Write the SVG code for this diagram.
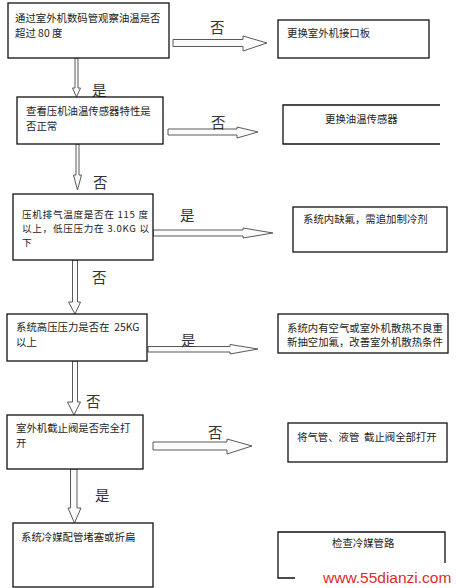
<svg xmlns="http://www.w3.org/2000/svg" width="456" height="588" viewBox="0 0 456 588">
<style>
.box{fill:#fff;stroke:#111;stroke-width:1.3}
.obox{fill:none;stroke:#111;stroke-width:1.3}
.t{font-family:"Noto Sans CJK SC","Liberation Serif",serif;font-size:10.4px;fill:#222;white-space:pre}
.t3{font-size:9.6px;letter-spacing:0.7px}
.lbl{font-family:"Noto Sans CJK SC","Liberation Sans",sans-serif;font-size:14.5px;fill:#333}
.arr{fill:#fbfbfb;stroke:#5a5a5a;stroke-width:1;stroke-linejoin:miter}
.wm{font-family:"Liberation Sans",Arial,sans-serif;font-size:15.5px;fill:#e02a2a}
</style>
<rect width="456" height="588" fill="#fff"/>
<g id="connectors">
<polygon class="arr" points="173,39.5 243,39.5 243,36 267,43 243,51 243,46.5 173,46.5"/>
<polygon class="arr" points="168,129 237,129 237,127 258,132 237,138 237,135 168,135"/>
<polygon class="arr" points="153,230 243,230 243,228 273,233 243,238 243,236 153,236"/>
<polygon class="arr" points="148,346.5 230,346.5 230,344.5 258,349 230,354 230,352 148,352"/>
<polygon class="arr" points="153,442 227,442 227,439 252,446 227,454 227,450 153,450"/>
<polygon class="arr" points="75,58 78,58 78,88 80.5,88 76.5,97 72.5,88 75,88"/>
<polygon class="arr" points="76,144 79,144 79,175 81.5,175 77.5,190 73.5,175 76,175"/>
<polygon class="arr" points="72.5,260 77.5,260 77.5,302 80.5,302 75,314 68.5,302 72.5,302"/>
<polygon class="arr" points="72.5,361 77.5,361 77.5,402 80.5,402 74,415 67.5,402 72.5,402"/>
<polygon class="arr" points="70.5,469 77,469 77,508 81,508 74.5,523 68,508 70.5,508"/>
<text class="lbl" x="210" y="33">否</text>
<text class="lbl" x="92" y="96">是</text>
<text class="lbl" x="211" y="128">否</text>
<text class="lbl" x="93" y="188">否</text>
<text class="lbl" x="180" y="221">是</text>
<text class="lbl" x="92" y="283">否</text>
<text class="lbl" x="181" y="346">是</text>
<text class="lbl" x="86" y="407">否</text>
<text class="lbl" x="208" y="438">否</text>
<text class="lbl" x="95" y="501">是</text>
</g>
<g id="q1">
<rect class="box" x="8" y="3" width="161" height="55"/>
<text class="t" x="15" y="21.5">通过室外机数码管观察油温是否</text>
<text class="t" x="15" y="36.5">超过 80 度</text>
</g>
<g id="a1">
<rect class="box" x="278" y="20" width="151" height="38"/>
<text class="t" x="287" y="37">更换室外机接口板</text>
</g>
<g id="q2">
<rect class="box" x="17" y="97" width="146" height="47"/>
<text class="t" x="26" y="115">查看压机油温传感器特性是</text>
<text class="t" x="26" y="130">否正常</text>
</g>
<g id="a2">
<path class="obox" d="M440 105 H283 V144 H440"/>
<text class="t" x="325" y="123">更换油温传感器</text>
</g>
<g id="q3">
<rect class="box" x="13" y="194" width="140" height="66"/>
<text class="t t3" x="22" y="218">压机排气温度是否在 115 度</text>
<text class="t t3" x="22" y="232">以上，低压压力在 3.0KG 以</text>
<text class="t t3" x="22" y="246">下</text>
</g>
<g id="a3">
<rect class="box" x="293" y="207" width="154" height="45"/>
<text class="t" x="303" y="223">系统内缺氟，需追加制冷剂</text>
</g>
<g id="q4">
<rect class="box" x="7" y="314" width="140" height="47"/>
<text class="t" x="16" y="331">系统高压压力是否在  25KG</text>
<text class="t" x="16" y="346">以上</text>
</g>
<g id="a4">
<rect class="box" x="278" y="314" width="170" height="39"/>
<text class="t" x="287" y="332">系统内有空气或室外机散热不良重</text>
<text class="t" x="287" y="346">新抽空加氟，改善室外机散热条件</text>
</g>
<g id="q5">
<rect class="box" x="7" y="415" width="136" height="54"/>
<text class="t" x="16" y="432">室外机截止阀是否完全打</text>
<text class="t" x="16" y="447">开</text>
</g>
<g id="a5">
<rect class="box" x="288" y="423" width="159" height="39"/>
<text class="t" x="297" y="441">将气管、液管  截止阀全部打开</text>
</g>
<g id="q6">
<rect class="box" x="13" y="523" width="140" height="64"/>
<text class="t" x="21" y="541">系统冷媒配管堵塞或折扁</text>
</g>
<g id="a6">
<path class="obox" d="M295 578 H278 V532 H445 V563"/>
<text class="t" x="332" y="547">检查冷媒管路</text>
</g>
<text class="wm" x="323" y="583">www.55dianzi.com</text>
</svg>
